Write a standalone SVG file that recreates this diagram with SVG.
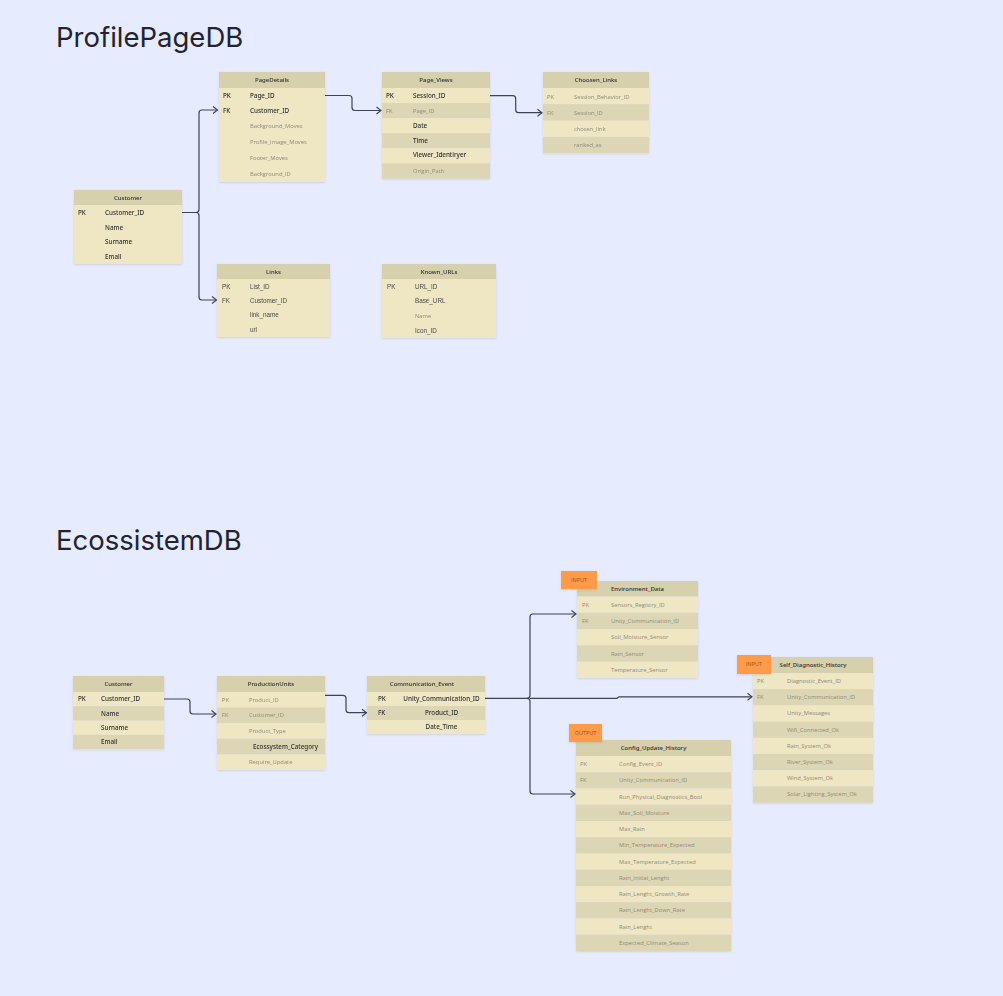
<svg xmlns="http://www.w3.org/2000/svg" width="1003" height="996" viewBox="0 0 1003 996">
<style>
.title{font-family:Inter,"Noto Sans",sans-serif;font-size:27.5px;fill:#22232e;font-weight:400}
.hd{fill:#d6d0ad}
.lt{fill:#efe6c4}
.dk{fill:#ddd6b4}
.ht{font-family:"Noto Sans",sans-serif;font-size:6px;font-weight:500;fill:#2e2e2e;text-anchor:middle}
.fd{font-family:"Noto Sans",sans-serif;font-size:6.3px;font-weight:500;fill:#2e2e2e}
.fm{font-family:"Liberation Sans",Arial,sans-serif;font-size:6.3px;fill:#4a4a44}
.fl{font-family:"Open Sans",sans-serif;font-size:5.8px;fill:#8f8a78}
.cen{text-anchor:middle}
.note{fill:#fd9b48}
.nt{font-family:"Open Sans",sans-serif;font-size:5.5px;fill:#a4521a;text-anchor:middle}
.edge{fill:none;stroke:#3d4356;stroke-width:1.2}
</style>
<defs>
<marker id="arr" markerUnits="userSpaceOnUse" markerWidth="8" markerHeight="9" refX="5.5" refY="4" orient="auto" overflow="visible">
<path d="M1,0.5 L5.5,4 L1,7.5" fill="none" stroke="#3d4356" stroke-width="1.1"/>
</marker>
<filter id="sh" x="-10%" y="-10%" width="120%" height="130%">
<feDropShadow dx="0" dy="0.8" stdDeviation="0.8" flood-color="#000" flood-opacity="0.12"/>
</filter>
</defs>
<rect width="1003" height="996" fill="#e6ebfe"/>

<text class="title" x="56" y="47">ProfilePageDB</text>
<text class="title" x="56" y="550">EcossistemDB</text>

<g id="connectors">
<path class="edge" d="M182,212.5 H196 Q199,212.5 199,209.5 V113 Q199,110 202,110 H217.5" marker-end="url(#arr)"/>
<path class="edge" d="M196,212.5 Q199,212.5 199,215.5 V297 Q199,300 202,300 H216.5" marker-end="url(#arr)"/>
<path class="edge" d="M325,95.5 H349 Q352,95.5 352,98.5 V107.5 Q352,110.5 355,110.5 H381" marker-end="url(#arr)"/>
<path class="edge" d="M490,95.7 H512.7 Q515.7,95.7 515.7,98.7 V109.7 Q515.7,112.7 518.7,112.7 H542" marker-end="url(#arr)"/>
<path class="edge" d="M164,699 H187 Q190,699 190,702 V711 Q190,714 193,714 H216" marker-end="url(#arr)"/>
<path class="edge" d="M325,695.3 H343 Q346,695.3 346,698.3 V709.7 Q346,712.7 349,712.7 H366.5" marker-end="url(#arr)"/>
<path class="edge" d="M485,698.3 H527 Q530,698.3 530,695.3 V617 Q530,614 533,614 H576" marker-end="url(#arr)"/>
<path class="edge" d="M527,698.3 Q530,698.3 530,701.3 V791 Q530,794 533,794 H575" marker-end="url(#arr)"/>
<path class="edge" d="M530,698.3 H617 L619,696.8 H752" marker-end="url(#arr)"/>
</g>

<g id="customer_top" filter="url(#sh)">
<rect class="hd" x="74" y="190" width="108" height="15"/>
<rect class="lt" x="74" y="205" width="108" height="59"/>
<text class="ht" x="128" y="199.8">Customer</text>
<text class="fd" x="78" y="214.8">PK</text><text class="fd" x="105" y="214.8">Customer_ID</text>
<text class="fd" x="105" y="229.5">Name</text>
<text class="fd" x="105" y="244">Surname</text>
<text class="fd" x="105" y="258.6">Email</text>
</g>

<g id="pagedetails" filter="url(#sh)">
<rect class="hd" x="219" y="72" width="106" height="16"/>
<rect class="lt" x="219" y="88" width="106" height="94"/>
<text class="ht" x="272" y="82">PageDetails</text>
<text class="fd" x="223" y="97.8">PK</text><text class="fd" x="250" y="97.8">Page_ID</text>
<text class="fd" x="223" y="112.8">FK</text><text class="fd" x="250" y="112.8">Customer_ID</text>
<text class="fl" x="250" y="127.5">Background_Moves</text>
<text class="fl" x="250" y="143.5">Profile_Image_Moves</text>
<text class="fl" x="250" y="159.5">Footer_Moves</text>
<text class="fl" x="250" y="175.5">Background_ID</text>
</g>

<g id="page_views" filter="url(#sh)">
<rect class="hd" x="382" y="72" width="108" height="16"/>
<rect class="lt" x="382" y="88" width="108" height="15.1"/>
<rect class="dk" x="382" y="103.1" width="108" height="15.1"/>
<rect class="lt" x="382" y="118.2" width="108" height="15.1"/>
<rect class="dk" x="382" y="133.3" width="108" height="15.1"/>
<rect class="lt" x="382" y="148.4" width="108" height="15.1"/>
<rect class="dk" x="382" y="163.5" width="108" height="15.1"/>
<text class="ht" x="436" y="82">Page_Views</text>
<text class="fd" x="386" y="97.8">PK</text><text class="fd" x="413" y="97.8">Session_ID</text>
<text class="fl" x="386" y="113">FK</text><text class="fl" x="413" y="113">Page_ID</text>
<text class="fd" x="413" y="127.8">Date</text>
<text class="fd" x="413" y="142.8">Time</text>
<text class="fd" x="413" y="157">Viewer_Identiryer</text>
<text class="fl" x="413" y="172.8">Origin_Path</text>
</g>

<g id="choosen_links" filter="url(#sh)">
<rect class="hd" x="543" y="72" width="106" height="16"/>
<rect class="lt" x="543" y="88" width="106" height="16.3"/>
<rect class="dk" x="543" y="104.3" width="106" height="16.3"/>
<rect class="lt" x="543" y="120.6" width="106" height="16.3"/>
<rect class="dk" x="543" y="136.9" width="106" height="16.3"/>
<text class="ht" x="596" y="82">Choosen_Links</text>
<text class="fl" x="547" y="98.5">PK</text><text class="fl" x="574" y="98.5">Session_Behavior_ID</text>
<text class="fl" x="547" y="114.6">FK</text><text class="fl" x="574" y="114.6">Session_ID</text>
<text class="fl" x="574" y="130.8">chosen_link</text>
<text class="fl" x="574" y="147">ranked_as</text>
</g>

<g id="links" filter="url(#sh)">
<rect class="hd" x="217" y="264" width="113" height="15"/>
<rect class="lt" x="217" y="279" width="113" height="58"/>
<text class="ht" x="273.5" y="273.8">Links</text>
<text class="fm" x="222" y="288.5">PK</text><text class="fm" x="250" y="288.5">List_ID</text>
<text class="fm" x="222" y="302.8">FK</text><text class="fm" x="250" y="302.8">Customer_ID</text>
<text class="fm" x="250" y="317.3">link_name</text>
<text class="fm" x="250" y="331.6">url</text>
</g>

<g id="known_urls" filter="url(#sh)">
<rect class="hd" x="382" y="264" width="114" height="15"/>
<rect class="lt" x="382" y="279" width="114" height="59"/>
<text class="ht" x="439" y="273.8">Known_URLs</text>
<text class="fm" x="387" y="288.6">PK</text><text class="fm" x="415" y="288.6">URL_ID</text>
<text class="fm" x="415" y="303">Base_URL</text>
<text class="fl" x="415" y="317.8">Name</text>
<text class="fm" x="415" y="333">Icon_ID</text>
</g>

<g id="customer_bottom" filter="url(#sh)">
<rect class="hd" x="73" y="676" width="91" height="16"/>
<rect class="lt" x="73" y="692" width="91" height="14.3"/>
<rect class="dk" x="73" y="706.3" width="91" height="14.3"/>
<rect class="lt" x="73" y="720.6" width="91" height="14.3"/>
<rect class="dk" x="73" y="734.9" width="91" height="14.3"/>
<text class="ht" x="118.5" y="686">Customer</text>
<text class="fd" x="78" y="701.3">PK</text><text class="fd" x="101" y="701.3">Customer_ID</text>
<text class="fd" x="101" y="715.6">Name</text>
<text class="fd" x="101" y="729.9">Surname</text>
<text class="fd" x="101" y="744.2">Email</text>
</g>

<g id="productionunits" filter="url(#sh)">
<rect class="hd" x="217" y="676" width="108" height="16"/>
<rect class="lt" x="217" y="692" width="108" height="15.6"/>
<rect class="dk" x="217" y="707.6" width="108" height="15.6"/>
<rect class="lt" x="217" y="723.2" width="108" height="15.6"/>
<rect class="dk" x="217" y="738.8" width="108" height="15.6"/>
<rect class="lt" x="217" y="754.4" width="108" height="15.6"/>
<text class="ht" x="271" y="686">ProductionUnits</text>
<text class="fl" x="222" y="701.8">PK</text><text class="fl" x="249" y="701.8">Product_ID</text>
<text class="fl" x="222" y="717.4">FK</text><text class="fl" x="249" y="717.4">Customer_ID</text>
<text class="fl" x="249" y="733">Product_Type</text>
<text class="fd" x="253" y="749">Ecossystem_Category</text>
<text class="fl" x="249" y="764.2">Require_Update</text>
</g>

<g id="communication_event" filter="url(#sh)">
<rect class="hd" x="367" y="676" width="118" height="16"/>
<rect class="lt" x="367" y="692" width="118" height="14"/>
<rect class="dk" x="367" y="706" width="118" height="14"/>
<rect class="lt" x="367" y="720" width="118" height="14"/>
<text class="ht" x="422" y="686">Communication_Event</text>
<text class="fd" x="378" y="701">PK</text><text class="fd cen" x="441.5" y="701">Unity_Communication_ID</text>
<text class="fd" x="378" y="715">FK</text><text class="fd cen" x="441.5" y="715">Product_ID</text>
<text class="fd cen" x="441.5" y="729.3">Date_Time</text>
</g>

<g id="environment_data">
<g filter="url(#sh)">
<rect class="hd" x="577" y="581" width="121" height="15.5"/>
<rect class="lt" x="577" y="596.5" width="121" height="16.3"/>
<rect class="dk" x="577" y="612.8" width="121" height="16.3"/>
<rect class="lt" x="577" y="629.1" width="121" height="16.3"/>
<rect class="dk" x="577" y="645.4" width="121" height="16.3"/>
<rect class="lt" x="577" y="661.7" width="121" height="16.3"/>
</g>
<text class="ht" x="637.5" y="590.8">Environment_Data</text>
<text class="fl" x="582" y="606.6">PK</text><text class="fl" x="611" y="606.6">Sensors_Registry_ID</text>
<text class="fl" x="582" y="622.9">FK</text><text class="fl" x="611" y="622.9">Unity_Communication_ID</text>
<text class="fl" x="611" y="639.2">Soil_Moisture_Sensor</text>
<text class="fl" x="611" y="655.5">Rain_Sensor</text>
<text class="fl" x="611" y="671.8">Temperature_Sensor</text>
<rect class="note" x="561" y="571" width="36" height="18" filter="url(#sh)"/>
<text class="nt" x="579" y="581.5">INPUT</text>
</g>

<g id="self_diagnostic_history">
<g filter="url(#sh)">
<rect class="hd" x="753" y="657" width="120" height="16"/>
<rect class="lt" x="753" y="673" width="120" height="16.2"/>
<rect class="dk" x="753" y="689.2" width="120" height="16.2"/>
<rect class="lt" x="753" y="705.4" width="120" height="16.2"/>
<rect class="dk" x="753" y="721.6" width="120" height="16.2"/>
<rect class="lt" x="753" y="737.8" width="120" height="16.2"/>
<rect class="dk" x="753" y="754" width="120" height="16.2"/>
<rect class="lt" x="753" y="770.2" width="120" height="16.2"/>
<rect class="dk" x="753" y="786.4" width="120" height="16.2"/>
</g>
<text class="ht" x="813" y="667">Self_Diagnostic_History</text>
<text class="fl" x="757" y="683">PK</text><text class="fl" x="787" y="683">Diagnostic_Event_ID</text>
<text class="fl" x="757" y="699.2">FK</text><text class="fl" x="787" y="699.2">Unity_Communication_ID</text>
<text class="fl" x="787" y="715.4">Unity_Messages</text>
<text class="fl" x="787" y="731.6">Wifi_Connected_Ok</text>
<text class="fl" x="787" y="747.8">Rain_System_Ok</text>
<text class="fl" x="787" y="764">River_System_Ok</text>
<text class="fl" x="787" y="780.2">Wind_System_Ok</text>
<text class="fl" x="787" y="796.4">Solar_Lighting_System_Ok</text>
<rect class="note" x="737" y="655" width="34" height="19" filter="url(#sh)"/>
<text class="nt" x="754" y="666.3">INPUT</text>
</g>

<g id="config_update_history">
<g filter="url(#sh)">
<rect class="hd" x="576" y="740" width="155" height="16"/>
<rect class="lt" x="576" y="756" width="155" height="16.25"/>
<rect class="dk" x="576" y="772.25" width="155" height="16.25"/>
<rect class="lt" x="576" y="788.5" width="155" height="16.25"/>
<rect class="dk" x="576" y="804.75" width="155" height="16.25"/>
<rect class="lt" x="576" y="821" width="155" height="16.25"/>
<rect class="dk" x="576" y="837.25" width="155" height="16.25"/>
<rect class="lt" x="576" y="853.5" width="155" height="16.25"/>
<rect class="dk" x="576" y="869.75" width="155" height="16.25"/>
<rect class="lt" x="576" y="886" width="155" height="16.25"/>
<rect class="dk" x="576" y="902.25" width="155" height="16.25"/>
<rect class="lt" x="576" y="918.5" width="155" height="16.25"/>
<rect class="dk" x="576" y="934.75" width="155" height="16.25"/>
</g>
<text class="ht" x="653.5" y="750">Config_Update_History</text>
<text class="fl" x="580" y="766">PK</text><text class="fl" x="619" y="766">Config_Event_ID</text>
<text class="fl" x="580" y="782.3">FK</text><text class="fl" x="619" y="782.3">Unity_Communication_ID</text>
<text class="fl" x="619" y="798.5">Run_Physical_Diagnostics_Bool</text>
<text class="fl" x="619" y="814.8">Max_Soil_Moisture</text>
<text class="fl" x="619" y="831">Max_Rain</text>
<text class="fl" x="619" y="847.3">Min_Temperature_Expected</text>
<text class="fl" x="619" y="863.5">Max_Temperature_Expected</text>
<text class="fl" x="619" y="879.8">Rain_Initial_Lenght</text>
<text class="fl" x="619" y="896">Rain_Lenght_Growth_Rate</text>
<text class="fl" x="619" y="912.3">Rain_Lenght_Down_Rate</text>
<text class="fl" x="619" y="928.5">Rain_Lenght</text>
<text class="fl" x="619" y="944.8">Expected_Climate_Season</text>
<rect class="note" x="569" y="724" width="33" height="18" filter="url(#sh)"/>
<text class="nt" x="585.5" y="735">OUTPUT</text>
</g>
</svg>
